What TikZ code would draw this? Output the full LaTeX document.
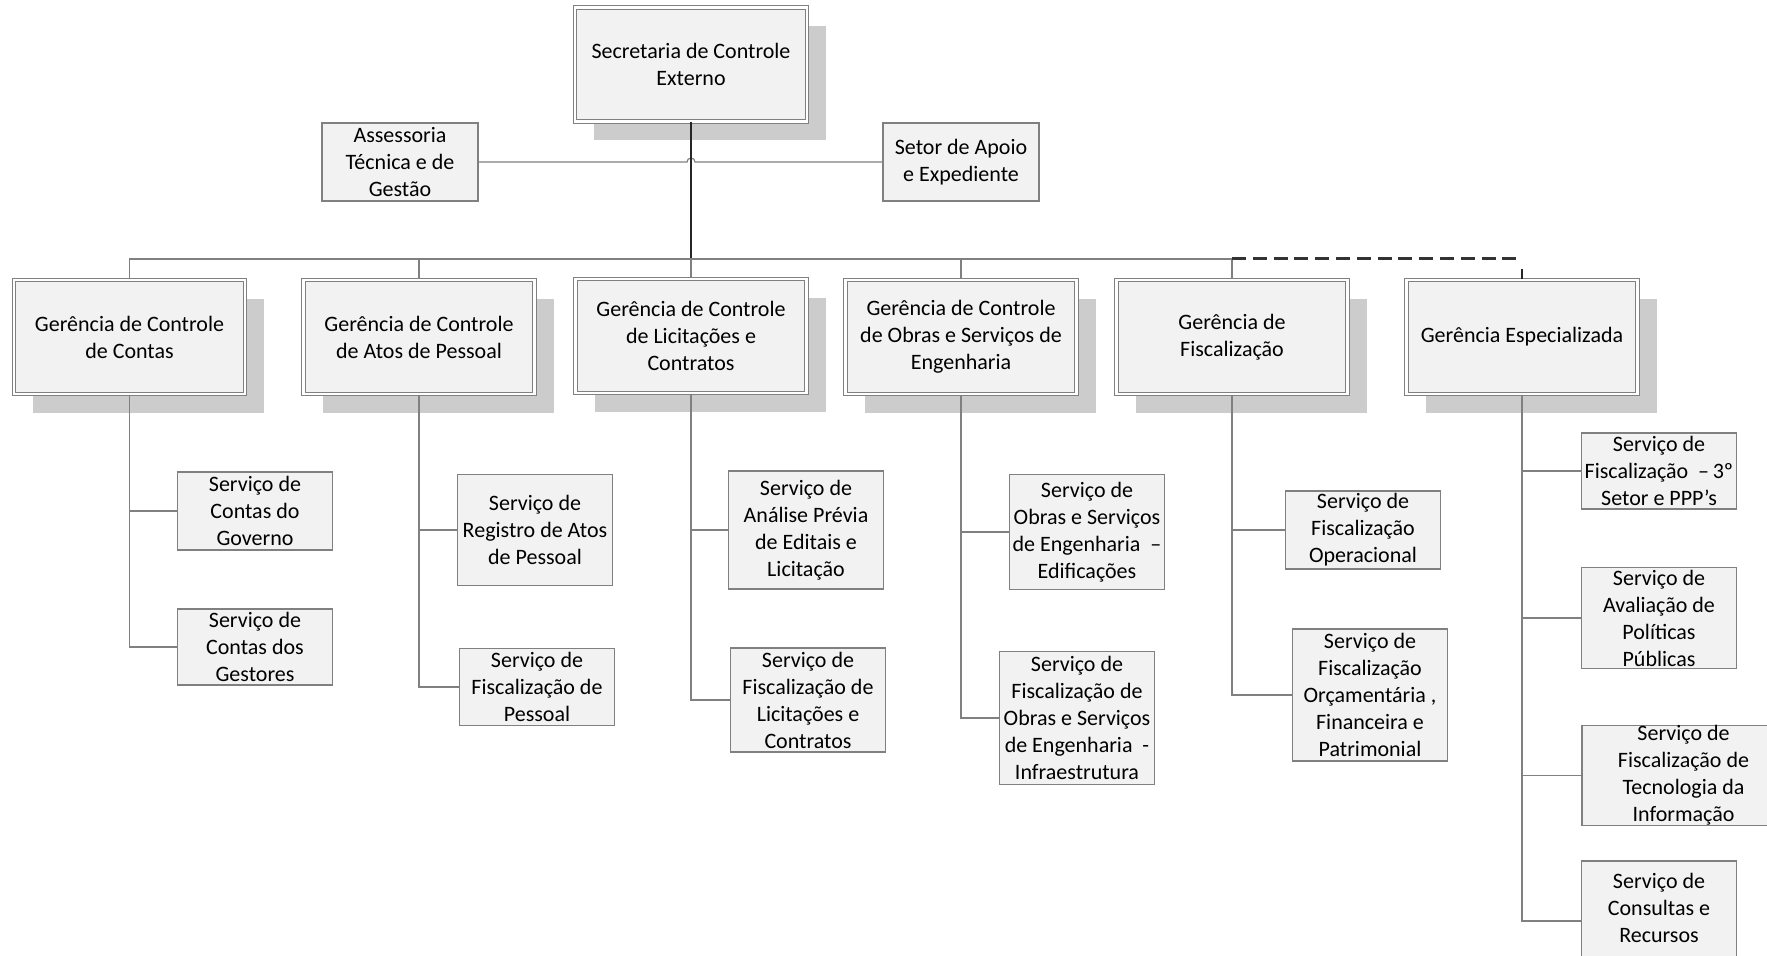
\documentclass[tikz,border=0pt]{standalone}
\usepackage{fontspec}
\setmainfont{Carlito}
\usetikzlibrary{shadows}

\tikzset{
  gerbox/.style={draw=gray, double=white, double distance=1.1pt, line width=0.55pt,
    fill=gray!10, minimum width=115.5pt, minimum height=57pt, align=center,
    inner xsep=1pt, inner ysep=0pt,
    drop shadow={opacity=1, fill=gray!40, shadow xshift=9.5pt, shadow yshift=-9.5pt}},
  servbox/.style={draw=gray, line width=0.6pt, fill=gray!10, minimum width=77.5pt,
    align=center, inner xsep=1pt, inner ysep=0pt},
  conn/.style={draw=gray, line width=0.6pt},
  mainline/.style={draw=black!85, line width=0.7pt},
  dashline/.style={draw=black!80, line width=1.5pt, dash pattern=on 7pt off 3.4pt},
  every node/.style={font=\fontsize{11}{13.5}\selectfont}
}

\begin{document}
\begin{tikzpicture}[x=0.5pt, y=-0.5pt]
        \useasboundingbox (0,0) rectangle (1767,956);
        % Top level
        \node[gerbox, minimum width=116pt] (sec) at (691,64.5) {Secretaria de Controle\\Externo};
        \node[servbox, minimum width=78pt, minimum height=39pt] (ass) at (400,162) {Assessoria\\Técnica e de\\Gestão};
        \node[servbox, minimum width=78pt, minimum height=39pt] (apo) at (961,162) {Setor de Apoio\\e Expediente};
        % Gerencias
        \node[gerbox] (g1) at (129.5,337) {Gerência de Controle\\de Contas};
        \node[gerbox] (g2) at (419,337) {Gerência de Controle\\de Atos de Pessoal};
        \node[gerbox] (g3) at (691,336) {Gerência de Controle\\de Licitações e\\Contratos};
        \node[gerbox] (g4) at (961,337) {Gerência de Controle\\de Obras e Serviços de\\Engenharia};
        \node[gerbox] (g5) at (1232,337) {Gerência de\\Fiscalização};
        \node[gerbox] (g6) at (1522,337) {Gerência Especializada};
        % Servicos
        \node[servbox, minimum height=39pt] (s11) at (255,511) {Serviço de\\Contas do\\Governo};
        \node[servbox, minimum height=38pt] (s12) at (255,647) {Serviço de\\Contas dos\\Gestores};
        \node[servbox, minimum height=55.5pt] (s21) at (535,530) {Serviço de\\Registro de Atos\\de Pessoal};
        \node[servbox, minimum height=38.5pt] (s22) at (537,687) {Serviço de\\Fiscalização de\\Pessoal};
        \node[servbox, minimum height=59pt] (s31) at (806,530) {Serviço de\\Análise Prévia\\de Editais e\\Licitação};
        \node[servbox, minimum height=52pt] (s32) at (808,700) {Serviço de\\Fiscalização de\\Licitações e\\Contratos};
        \node[servbox, minimum height=57.5pt] (s41) at (1087,532) {Serviço de\\Obras e Serviços\\de Engenharia\ \ –\\Edificações};
        \node[servbox, minimum height=66.5pt] (s42) at (1077,718) {Serviço de\\Fiscalização de\\Obras e Serviços\\de Engenharia\ \ -\\Infraestrutura};
        \node[servbox, minimum height=39pt] (s51) at (1363,530) {Serviço de\\Fiscalização\\Operacional};
        \node[servbox, minimum height=66pt] (s52) at (1370,695) {Serviço de\\Fiscalização\\Orçamentária ,\\Financeira e\\Patrimonial};
        \node[servbox, minimum height=38pt] (s61) at (1659,471) {Serviço de\\Fiscalização\ \ –\,3º\\Setor e PPP’s};
        \node[servbox, minimum height=50.5pt] (s62) at (1659,618) {Serviço de\\Avaliação de\\Políticas\\Públicas};
        \node[servbox, minimum width=101.5pt, minimum height=48.5pt] (s63) at (1683.5,775.5) {Serviço de\\Fiscalização de\\Tecnologia da\\Informação};
        \node[servbox, minimum height=60pt] (s64) at (1659,921) {Serviço de\\Consultas e\\Recursos\\~};
        % Top lines
        \coordinate (bus) at (691,259);
        \coordinate (busend) at (1522,259);
        \draw[conn] (ass.east) -- (687,162) arc[start angle=180, end angle=0, radius=2pt] -- (apo.west);
        \draw[mainline] (sec.south) -- (bus);
        \draw[conn] (bus) -| (g1.north);
        \draw[conn] (bus) -| (g2.north);
        \draw[conn] (bus) -- (g3.north);
        \draw[conn] (bus) -| (g4.north);
        \draw[conn] (bus) -| (g5.north);
        \draw[dashline] (g5.north |- bus) -- (busend);
        \draw[mainline, line width=1pt] (g6.north) -- ++(0,-10);
        % Lines to services
        \draw[conn] (g1.south) |- (s11.west);
        \draw[conn] (g1.south) |- (s12.west);
        \draw[conn] (g2.south) |- (s21.west);
        \draw[conn] (g2.south) |- (s22.west);
        \draw[conn] (g3.south) |- (s31.west);
        \draw[conn] (g3.south) |- (s32.west);
        \draw[conn] (g4.south) |- (s41.west);
        \draw[conn] (g4.south) |- (s42.west);
        \draw[conn] (g5.south) |- (s51.west);
        \draw[conn] (g5.south) |- (s52.west);
        \draw[conn] (g6.south) |- (s61.west);
        \draw[conn] (g6.south) |- (s62.west);
        \draw[conn] (g6.south) |- (s63.west);
        \draw[conn] (g6.south) |- (s64.west);
\end{tikzpicture}
\end{document}
